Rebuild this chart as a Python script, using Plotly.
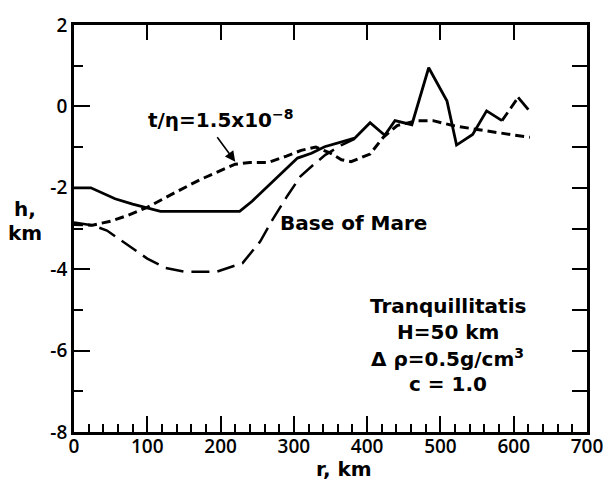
import plotly.graph_objects as go

# Surface (solid)
r_surf = [0, 23, 56, 80, 118, 226, 243, 305, 324, 342, 383, 404, 424, 438, 461, 484, 509, 522, 544, 563, 584]
h_surf = [-2.0, -2.0, -2.27, -2.40, -2.58, -2.58, -2.33, -1.27, -1.15, -0.99, -0.78, -0.40, -0.71, -0.35, -0.45, 0.95, 0.13, -0.95, -0.69, -0.11, -0.35]
# broken part of the surface near the end
r_surf_b = [584, 606]
h_surf_b = [-0.35, 0.22]
r_surf_c = [606, 620]
h_surf_c = [0.22, -0.08]

# Base of Mare (long dash)
r_base = [0, 25, 45, 73, 100, 125, 150, 195, 230, 254, 272, 291, 309, 327, 343, 365, 383]
h_base = [-2.85, -2.92, -3.05, -3.40, -3.74, -3.97, -4.06, -4.06, -3.85, -3.32, -2.75, -2.20, -1.72, -1.43, -1.19, -0.95, -0.80]

# t/eta = 1.5e-8 (short dash)
r_teta = [0, 25, 50, 73, 100, 118, 145, 172, 200, 220, 240, 265, 290, 310, 330, 350, 365, 378, 404, 422, 441, 468, 490, 517, 558, 622]
h_teta = [-2.90, -2.92, -2.82, -2.68, -2.48, -2.30, -2.05, -1.80, -1.57, -1.42, -1.38, -1.38, -1.22, -1.08, -1.00, -1.15, -1.31, -1.36, -1.17, -0.76, -0.47, -0.35, -0.35, -0.47, -0.59, -0.76]

x_ticks = [0, 100, 200, 300, 400, 500, 600, 700]
y_ticks = [2, 0, -2, -4, -6, -8]

FONT = "DejaVu Sans"
BLK = "black"

fig = go.Figure()
fig.add_trace(go.Scatter(x=r_base, y=h_base, mode="lines",
                         line=dict(color=BLK, width=2.5, dash="18px,8px")))
fig.add_trace(go.Scatter(x=r_teta, y=h_teta, mode="lines",
                         line=dict(color=BLK, width=3, dash="9px,5px")))
fig.add_trace(go.Scatter(x=r_surf, y=h_surf, mode="lines",
                         line=dict(color=BLK, width=2.8)))
fig.add_trace(go.Scatter(x=r_surf_b, y=h_surf_b, mode="lines",
                         line=dict(color=BLK, width=2.8, dash="10px,5px")))
fig.add_trace(go.Scatter(x=r_surf_c, y=h_surf_c, mode="lines",
                         line=dict(color=BLK, width=2.8)))
# invisible trace for mirrored axes
fig.add_trace(go.Scatter(x=[0, 700], y=[-8, 2], xaxis="x2", yaxis="y2",
                         mode="markers", marker=dict(opacity=0), hoverinfo="skip"))

tickfont = dict(family="Open Sans", size=19, color=BLK, weight=600)

fig.update_layout(
    width=616, height=485,
    margin=dict(l=74, r=29, t=15, b=53),
    paper_bgcolor="white", plot_bgcolor="white",
    showlegend=False,
    xaxis=dict(range=[0, 700], tickvals=x_ticks, ticktext=[str(v) for v in x_ticks],
               ticks="inside", ticklen=16, tickwidth=2, tickcolor=BLK,
               minor=dict(dtick=20, tick0=0, ticks="inside", ticklen=8, tickwidth=2, tickcolor=BLK),
               showline=True, linecolor=BLK, linewidth=2.8, mirror=True,
               showgrid=False, zeroline=False, tickfont=tickfont, ticklabelstandoff=-5),
    yaxis=dict(range=[-8, 2], tickvals=y_ticks, ticktext=[str(v) for v in y_ticks],
               ticks="inside", ticklen=16, tickwidth=2, tickcolor=BLK,
               minor=dict(dtick=1, tick0=0, ticks="inside", ticklen=9, tickwidth=2, tickcolor=BLK),
               showline=True, linecolor=BLK, linewidth=2.8, mirror=True,
               showgrid=False, zeroline=False, tickfont=tickfont),
    xaxis2=dict(range=[0, 700], overlaying="x", side="top", anchor="y",
                tickvals=x_ticks, ticks="inside", ticklen=15, tickwidth=2, tickcolor=BLK,
                showticklabels=False, showline=False, showgrid=False, zeroline=False),
    yaxis2=dict(range=[-8, 2], overlaying="y", side="right", anchor="x",
                dtick=1, tick0=0, ticks="inside", ticklen=15, tickwidth=2, tickcolor=BLK,
                showticklabels=False, showline=False, showgrid=False, zeroline=False),
)

tfont = dict(family=FONT, size=20, color=BLK, weight="bold")

# t/eta label and arrow
fig.add_annotation(x=200, y=-0.30, xref="x", yref="y", showarrow=False,
                   text="t/η=1.5x10<sup>−8</sup>", font=tfont)
fig.add_annotation(x=220, y=-1.36, ax=194, ay=-0.72, xref="x", yref="y",
                   axref="x", ayref="y", text="", showarrow=True,
                   arrowhead=2, arrowsize=1.3, arrowwidth=1.6, arrowcolor=BLK)
fig.add_annotation(x=381, y=-2.87, xref="x", yref="y", showarrow=False,
                   text="Base of Mare", font=tfont)

for txt, yy in [("Tranquillitatis", -4.91), ("H=50 km", -5.55),
                ("Δ ρ=0.5g/cm<sup>3</sup>", -6.18), ("c = 1.0", -6.83)]:
    fig.add_annotation(x=510, y=yy, xref="x", yref="y", showarrow=False,
                       text=txt, font=tfont)

# axis titles
fig.add_annotation(x=-0.096, y=0.547, xref="paper", yref="paper", showarrow=False,
                   text="h,", font=tfont, xanchor="center")
fig.add_annotation(x=-0.096, y=0.49, xref="paper", yref="paper", showarrow=False,
                   text="km", font=tfont, xanchor="center")
fig.add_annotation(x=0.527, y=-0.092, xref="paper", yref="paper", showarrow=False,
                   text="r, km", font=tfont, yanchor="middle")

fig.write_html("out.html")
